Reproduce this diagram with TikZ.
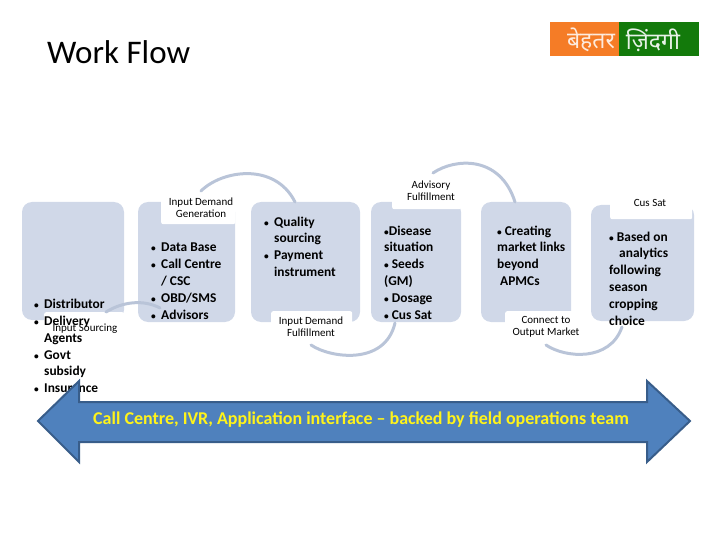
\documentclass[tikz,border=0pt]{standalone}
\usepackage{fontspec}
\setmainfont{Carlito}
\newfontfamily\devfont[Script=Devanagari]{Noto Sans}
\definecolor{boxfill}{HTML}{D0D8E8}
\definecolor{arcc}{HTML}{B9C4D8}
\definecolor{arrowfill}{HTML}{4F81BD}
\definecolor{arrowline}{HTML}{385D8A}
\definecolor{logoor}{HTML}{F57C26}
\definecolor{logogr}{HTML}{137A0B}
\newcommand{\smb}{\scalebox{0.7}{\textbullet}}
\newcommand{\bul}[1]{\makebox[10pt][l]{\smb}#1}
\newcommand{\ind}[1]{\hspace*{10pt}#1}
\tikzset{
  stagebox/.style={fill=boxfill,rounded corners=10pt,draw=none},
  linkarc/.style={draw=arcc,line width=3pt,line cap=round},
  whitelabel/.style={fill=white,draw=none,rounded corners=2pt},
  smalllabel/.style={font=\fontsize{11}{12.2}\selectfont,align=center,inner sep=0pt,text=black},
  bodytext/.style={font=\bfseries\fontsize{13.4}{16.8}\selectfont,align=left,inner sep=0pt,anchor=north west,text=black},
}
\begin{document}
\begin{tikzpicture}[x=1pt,y=-1pt]
\useasboundingbox (0,0) rectangle (720,540);
% title + logo
\node[font=\fontsize{33}{36}\selectfont,anchor=west,inner sep=0pt] (title) at (47,52) {Work Flow};
\node[fill=logoor,minimum width=69pt,minimum height=34pt,inner sep=0pt,anchor=north west] (logoa) at (550,22) {};
\node[fill=logogr,minimum width=80pt,minimum height=34pt,inner sep=0pt,anchor=north west] (logob) at (619,22) {};
\node[font=\devfont\fontsize{23}{25}\selectfont,text=white!85!logoor,inner sep=0pt] (logota) at (591,40) {बेहतर};
\node[font=\devfont\fontsize{23}{25}\selectfont,text=white!90!logogr,inner sep=0pt] (logotb) at (653,40) {ज़िंदगी};
% stage boxes
\path[stagebox] (22,202) rectangle (124,320);
\path[stagebox] (138,202) rectangle (235,322);
\path[stagebox] (251,202) rectangle (360,322);
\path[stagebox] (371,202) rectangle (461,322);
\path[stagebox] (481,202) rectangle (571,322);
\path[stagebox] (591,205) rectangle (694,321);
% white label backgrounds
\node[whitelabel,minimum width=80pt,minimum height=28pt,anchor=north west,inner sep=0pt] (wa) at (44,312) {};
\node[whitelabel,minimum width=74pt,minimum height=29pt,anchor=north west,inner sep=0pt] (wb) at (161,195) {};
\node[whitelabel,minimum width=81pt,minimum height=32pt,anchor=north west,inner sep=0pt] (wc) at (271,311) {};
\node[whitelabel,minimum width=69pt,minimum height=34pt,anchor=north west,inner sep=0pt] (wd) at (392,175) {};
\node[whitelabel,minimum width=75pt,minimum height=34pt,anchor=north west,inner sep=0pt] (we) at (505,311) {};
\node[whitelabel,minimum width=82pt,minimum height=29pt,anchor=north west,inner sep=0pt] (wf) at (610,190) {};
% connecting arcs
\coordinate (a1s) at (106,312); \coordinate (a1e) at (160,308);
\coordinate (a2s) at (201,191); \coordinate (a2e) at (295,202);
\coordinate (a3s) at (311,345); \coordinate (a3e) at (395,323);
\coordinate (a4s) at (433,173); \coordinate (a4e) at (515,202);
\coordinate (a5s) at (546,345); \coordinate (a5e) at (622,327);
\draw[linkarc] (a1s) .. controls (122,302) and (143,299) .. (a1e);
\draw[linkarc] (a2s) .. controls (222,170) and (275,162) .. (a2e);
\draw[linkarc] (a3s) .. controls (330,358) and (385,366) .. (a3e);
\draw[linkarc] (a4s) .. controls (455,158) and (500,155) .. (a4e);
\draw[linkarc] (a5s) .. controls (565,358) and (610,362) .. (a5e);
% small labels
\node[smalllabel] (la) at (85,329) {Input Sourcing};
\node[smalllabel] (lb) at (201,208) {Input Demand\\Generation};
\node[smalllabel] (lc) at (311,327) {Input Demand\\Fulfillment};
\node[smalllabel] (ld) at (431,191) {Advisory\\Fulfillment};
\node[smalllabel] (le) at (546,327) {Connect to\\Output Market};
\node[smalllabel] (lf) at (650,202.5) {Cus Sat};
% body texts
\node[bodytext] (t1) at (34,298.5) {\bul{Distributor}\\[0.6pt]\bul{Delivery}\\\ind{Agents}\\\bul{Govt}\\\ind{subsidy}\\\bul{Insurance}};
\node[bodytext] (t2) at (151,243) {\bul{Data Base}\\\bul{Call Centre}\\\ind{/ CSC}\\\bul{OBD/SMS}\\\bul{Advisors}};
\node[bodytext] (t3) at (264,216.5) {\bul{Quality}\\\ind{sourcing}\\\bul{Payment}\\\ind{instrument}};
\node[bodytext] (t4) at (384,225.5) {\smb Disease\\situation\\\smb{} Seeds\\(GM)\\\smb{} Dosage\\\smb{} Cus Sat};
\node[bodytext] (t5) at (497,225.5) {\smb{} Creating\\market links\\beyond\\\hspace*{3pt}APMCs};
\node[bodytext] (t6) at (609,231.5) {\smb{} Based on\\\hspace*{10pt}analytics\\following\\season\\cropping\\choice};
% double arrow
\draw[fill=arrowfill,draw=arrowline,line width=2pt,line join=miter]
  (38,421) -- (79,381) -- (79,402) -- (647,402) -- (647,381) -- (690,421)
  -- (647,462) -- (647,442) -- (79,442) -- (79,462) -- cycle;
\node[font=\bfseries\fontsize{18}{20}\selectfont,text=yellow!90!white,inner sep=0pt] (banner) at (361,420)
  {Call Centre, IVR, Application interface – backed by field operations team};
\end{tikzpicture}
\end{document}
